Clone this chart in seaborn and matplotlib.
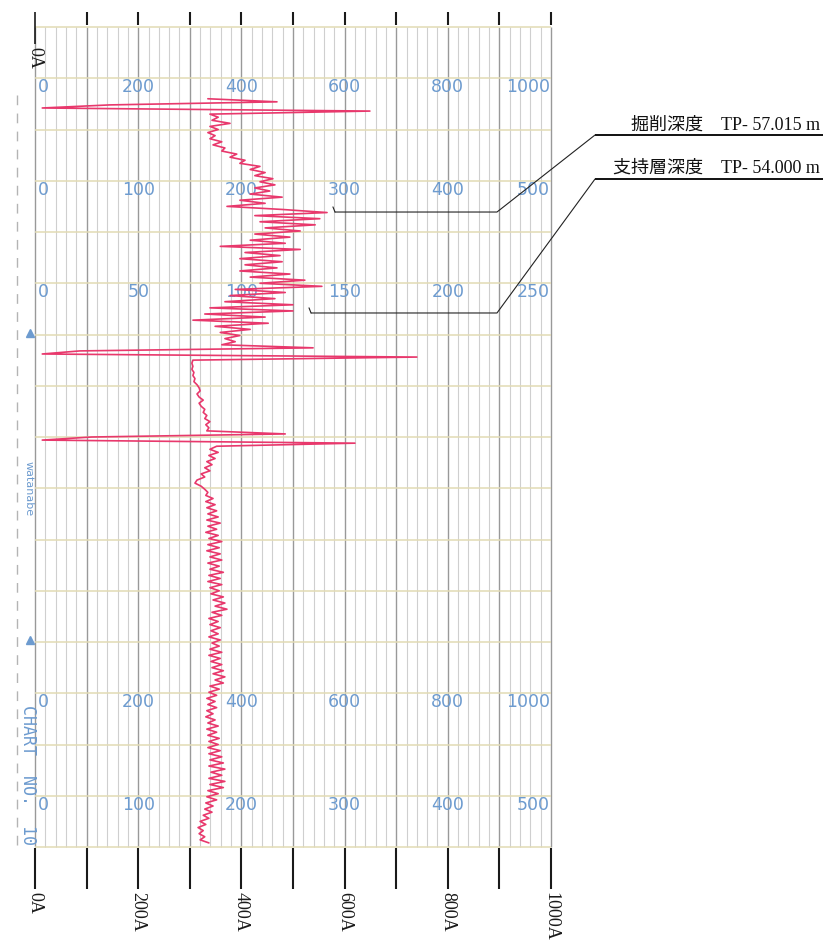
import numpy as np
import pandas as pd
import matplotlib
matplotlib.use("Agg")
import matplotlib.pyplot as plt
import seaborn as sns

# ---------------------------------------------------------------------------
# Recorder trace: pen current (A) sampled along the chart paper.
# Paper position is measured in mm from the top edge of the printed grid.
# ---------------------------------------------------------------------------
trace_start_mm = 14.0
trace_step_mm = 0.6
current_A = [
    335, 469, 145, 14, 649, 339, 355, 343, 378, 339,
    355, 335, 349, 339, 362, 345, 368, 362, 391, 378,
    407, 397, 436, 417, 446, 426, 461, 436, 465, 426,
    455, 417, 479, 397, 446, 372, 479, 566, 426, 552,
    436, 543, 446, 514, 426, 494, 417, 485, 359, 514,
    407, 475, 397, 479, 407, 469, 397, 494, 417, 523,
    436, 556, 388, 485, 378, 465, 368, 500, 339, 500,
    329, 446, 306, 452, 349, 417, 359, 397, 368, 388,
    362, 539, 87, 14, 740, 306, 304, 306, 304, 308,
    306, 310, 308, 314, 318, 320, 314, 318, 326, 318,
    322, 329, 326, 333, 329, 339, 331, 337, 333, 485,
    110, 14, 620, 352, 339, 355, 337, 349, 333, 343,
    329, 339, 322, 329, 314, 310, 322, 329, 335, 331,
    345, 331, 349, 333, 352, 335, 355, 333, 359, 335,
    352, 331, 355, 337, 362, 335, 357, 333, 359, 339,
    362, 335, 357, 339, 365, 337, 359, 335, 362, 339,
    357, 341, 365, 345, 368, 349, 372, 343, 362, 337,
    355, 339, 359, 341, 355, 337, 359, 343, 357, 339,
    362, 337, 359, 341, 362, 343, 365, 345, 368, 349,
    365, 339, 357, 337, 352, 333, 349, 335, 352, 333,
    345, 331, 349, 335, 355, 333, 352, 335, 357, 337,
    355, 335, 359, 337, 362, 339, 365, 337, 368, 341,
    362, 337, 368, 339, 365, 335, 355, 333, 352, 331,
    345, 329, 343, 326, 337, 320, 331, 316, 326, 318,
    329, 320, 337,
]

# Scale figures printed on the paper (one row of figures per listed grid line)
scale_rows_mm = [10, 30, 50, 130, 150]
scale_row_labels = [
    ["0", "200", "400", "600", "800", "1000"],
    ["0", "100", "200", "300", "400", "500"],
    ["0", "50", "100", "150", "200", "250"],
    ["0", "200", "400", "600", "800", "1000"],
    ["0", "100", "200", "300", "400", "500"],
]
scale_label_A = [0, 200, 400, 600, 800, 1000]

# Amperage scale along the top and bottom edges
edge_ticks_A = list(range(0, 1001, 100))
edge_label_A = [0, 200, 400, 600, 800, 1000]
edge_labels = ["0A", "200A", "400A", "600A", "800A", "1000A"]

# Depth call-outs
callout_texts = ["掘削深度\u3000TP- 57.015 m", "支持層深度\u3000TP- 54.000 m"]

# ---------------------------------------------------------------------------
sns.set_theme(style="white")
plt.rcParams["font.family"] = ["DejaVu Sans", "Noto Sans CJK JP"]

PAPER_A = (0, 1000)
PAPER_MM = (0, 160)
TRACE_COLOR = "#e8386c"
PRINT_BLUE = "#6d9bcf"

fig = plt.figure(figsize=(8.23, 9.41), dpi=100)
ax = fig.add_axes([0, 0, 1, 1])

# --- chart paper grid -------------------------------------------------------
minor_A = np.arange(0, 1001, 20)
ax.vlines([a for a in minor_A if a % 100], PAPER_MM[0], PAPER_MM[1],
          colors="#cfcfcf", lw=0.8, zorder=1)
ax.vlines([a for a in minor_A if a % 100 == 0], PAPER_MM[0], PAPER_MM[1],
          colors="#999999", lw=1.0, zorder=1)
ax.hlines(np.arange(0, 161, 10), PAPER_A[0], PAPER_A[1],
          colors="#e2dbb4", lw=1.1, zorder=1)

# scale figures
for row_mm, labels in zip(scale_rows_mm, scale_row_labels):
    for k, (a, lab) in enumerate(zip(scale_label_A, labels)):
        if k == 0:
            ha, xa = "left", a + 6
        elif k == len(labels) - 1:
            ha, xa = "right", a - 2
        else:
            ha, xa = "center", a
        ax.text(xa, row_mm + 1.8, lab, ha=ha, va="center", fontsize=12.5,
                color=PRINT_BLUE, family="DejaVu Sans", zorder=2)

# margin printing: dashed guide, index triangles, maker and chart number
ax.vlines(-35, 13.3, 160.2, colors="#b4b4b4", lw=1.0,
          linestyles=(0, (7, 6)), zorder=1)
ax.plot([-10, -10], [59.7, 119.6], ls="none", marker="^", ms=6,
        color=PRINT_BLUE, zorder=2)
ax.text(-13, 90, "watanabe", rotation=270, ha="center", va="center",
        fontsize=8, color=PRINT_BLUE)
ax.text(-14, 132.3, "CHART  NO.  10", rotation=270, ha="center", va="top",
        fontsize=12, color=PRINT_BLUE, family="DejaVu Sans Mono")

# --- amperage scale on top and bottom edges ---------------------------------
ax.vlines([a for a in edge_ticks_A if a > 0], -2.93, -0.4,
          colors="#1a1a1a", lw=1.5, zorder=3)
ax.vlines(0, -2.93, 3.3, colors="#1a1a1a", lw=1.2, zorder=3)
ax.text(0, 3.9, "0A", rotation=270, ha="center", va="top", fontsize=13,
        family="Liberation Serif", color="#1a1a1a")

ax.vlines(edge_ticks_A, 160.2, 168.2, colors="#1a1a1a", lw=1.5, zorder=3)
for a, lab in zip(edge_label_A, edge_labels):
    ax.text(a, 168.8, lab, rotation=270, ha="center", va="top", fontsize=13,
            family="Liberation Serif", color="#1a1a1a")

# --- recorder trace -----------------------------------------------------------
position_mm = trace_start_mm + trace_step_mm * np.arange(len(current_A))
trace = pd.DataFrame({"current": current_A, "position": position_mm})
sns.lineplot(data=trace, x="current", y="position", sort=False,
             estimator=None, orient="y", color=TRACE_COLOR, lw=1.2,
             ax=ax, zorder=4, legend=False)

# --- depth call-outs -----------------------------------------------------------
callout_baseline_mm = [20.0, 28.4]
callout_rule_mm = [21.07, 29.66]
callout_elbow = [(895.3, 36.1), (895.3, 55.8)]
callout_end_A = [581.4, 535.0]
for text, base, rule, (ex, ey), end in zip(callout_texts, callout_baseline_mm,
                                           callout_rule_mm, callout_elbow,
                                           callout_end_A):
    ax.text(1521, base, text, ha="right", va="baseline", fontsize=13,
            family=["Liberation Serif", "Noto Sans CJK JP"], color="#111111")
    ax.plot([1527, 1085.3], [rule, rule], color="#111111", lw=1.4,
            solid_capstyle="butt", zorder=5)
    ax.plot([1085.3, ex, end], [rule, ey, ey], color="#222222", lw=0.8,
            zorder=5)
    ax.plot([end, end - 4], [ey, ey - 1.0], color="#222222", lw=0.8, zorder=5)

ax.set_xlim(-67.83, 1527.1)
ax.set_ylim(178.34, -5.27)
ax.set_axis_off()

fig.savefig("out.png", dpi=100, facecolor="white")
